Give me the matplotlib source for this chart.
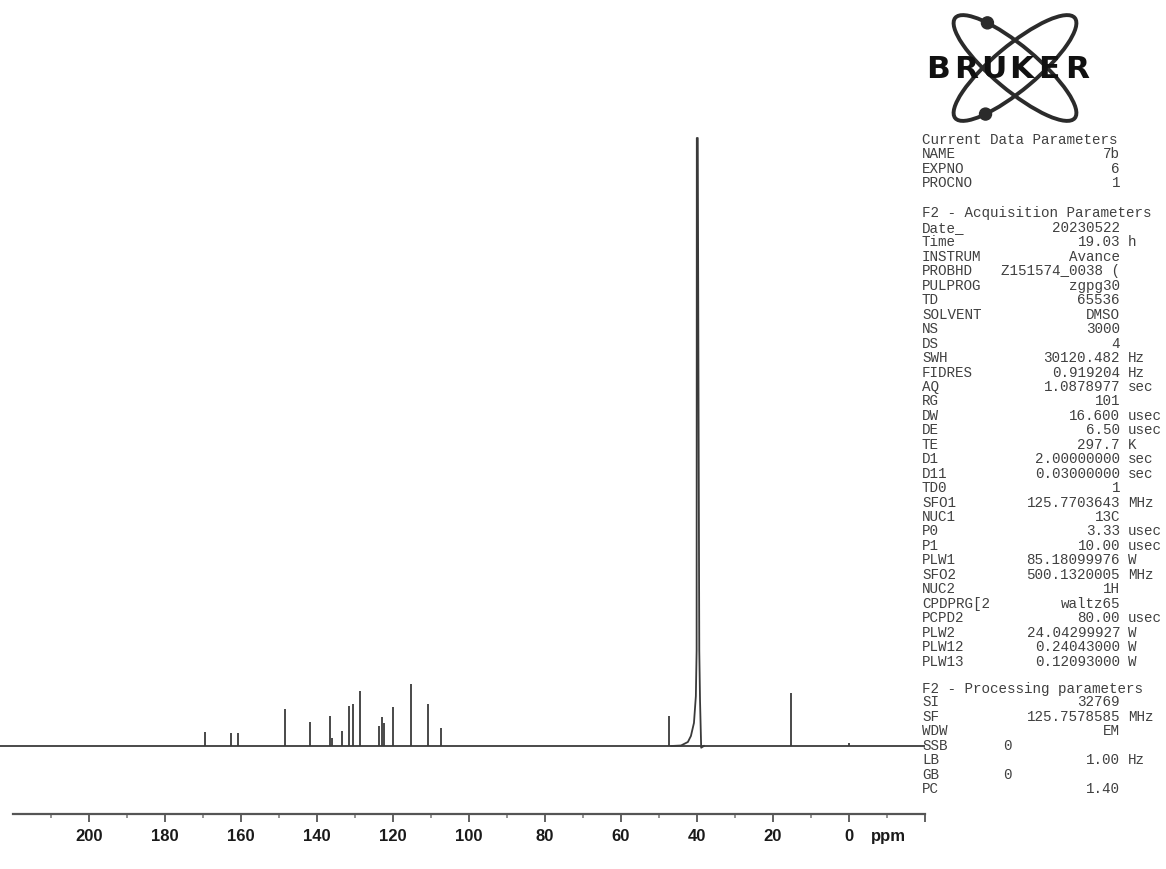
import numpy as np
import matplotlib
matplotlib.use("Agg")
import matplotlib.pyplot as plt
from matplotlib.patches import Ellipse, Circle

# ---------------- data ----------------
# 13C peaks: chemical shift (ppm) and relative intensity (DMSO = 100)
peak_ppm = [169.4, 162.6, 160.7, 148.4, 141.9, 136.5, 136.1, 133.4, 131.7,
            130.4, 128.7, 123.7, 122.9, 122.3, 120.0, 115.3, 110.9, 107.3,
            47.5, 15.3, 0.0]
peak_int = [2.3, 2.1, 2.1, 6.1, 4.0, 4.9, 1.3, 2.5, 6.6,
            6.9, 9.1, 3.3, 4.8, 3.8, 6.4, 10.2, 6.9, 2.9,
            4.9, 8.7, 0.5]

# DMSO solvent signal profile (ppm, relative intensity)
dmso_ppm = [46.8, 44.2, 42.4, 41.6, 40.8, 40.3, 40.1, 40.05, 39.8, 39.4, 39.2, 38.9, 38.2]
dmso_int = [0.0, 0.08, 0.66, 1.65, 3.8, 8.2, 15.7, 100.0, 100.0, 15.7, 7.4, -0.28, 0.0]

# axis ticks
major_ticks = [200, 180, 160, 140, 120, 100, 80, 60, 40, 20, 0, -20]
major_labels = ["200", "180", "160", "140", "120", "100", "80", "60", "40", "20", "0", ""]
minor_ticks = [210, 190, 170, 150, 130, 110, 90, 70, 50, 30, 10, -10]

# parameter block
cur_names = ["NAME", "EXPNO", "PROCNO"]
cur_values = ["7b", "6", "1"]

acq_names = ["Date_", "Time", "INSTRUM", "PROBHD", "PULPROG", "TD", "SOLVENT",
             "NS", "DS", "SWH", "FIDRES", "AQ", "RG", "DW", "DE", "TE", "D1",
             "D11", "TD0", "SFO1", "NUC1", "P0", "P1", "PLW1", "SFO2", "NUC2",
             "CPDPRG[2", "PCPD2", "PLW2", "PLW12", "PLW13"]
acq_values = ["20230522", "19.03", "Avance", "Z151574_0038 (", "zgpg30", "65536",
              "DMSO", "3000", "4", "30120.482", "0.919204", "1.0878977", "101",
              "16.600", "6.50", "297.7", "2.00000000", "0.03000000", "1",
              "125.7703643", "13C", "3.33", "10.00", "85.18099976",
              "500.1320005", "1H", "waltz65", "80.00", "24.04299927",
              "0.24043000", "0.12093000"]
acq_units = ["", "h", "", "", "", "", "", "", "", "Hz", "Hz", "sec", "", "usec",
             "usec", "K", "sec", "sec", "", "MHz", "", "usec", "usec", "W", "MHz",
             "", "", "usec", "W", "W", "W"]

proc_names = ["SI", "SF", "WDW", "SSB", "LB", "GB", "PC"]
proc_values = ["32769", "125.7578585", "EM", "0", "1.00", "0", "1.40"]
proc_units = ["", "MHz", "", "", "Hz", "", ""]

# ---------------- figure ----------------
W, H = 1166, 869
fig = plt.figure(figsize=(W / 100, H / 100), dpi=100)
fig.patch.set_facecolor("white")

def fx(x):
    return x / W

def fy(y):
    return 1 - y / H

axis_y = 814          # pixel row of the ppm axis
top_y = 125
ax = fig.add_axes([0, fy(axis_y), fx(925), (axis_y - top_y) / H])
ax.set_facecolor("none")

px_per_ppm = 3.8
ax.set_xlim(-20 + 925 / px_per_ppm, -20)
base_px = axis_y - 746            # baseline height above axis in px
px_per_unit = (746 - 138) / 100.0
ax.set_ylim(-base_px / px_per_unit, (axis_y - top_y - base_px) / px_per_unit)

line_col = "#3a3a3a"
ax.hlines(0, -20 + 925 / px_per_ppm, -20, color=line_col, lw=1.3, zorder=2)
ax.vlines(peak_ppm, 0, peak_int, color=line_col, lw=1.3, zorder=3)
ax.plot(dmso_ppm, dmso_int, color=line_col, lw=1.3, zorder=3)

for s in ["top", "right", "left"]:
    ax.spines[s].set_visible(False)
ax.spines["bottom"].set_bounds(220, -20)
ax.spines["bottom"].set_color("#555555")
ax.spines["bottom"].set_linewidth(1.6)
ax.set_yticks([])
ax.set_xticks(major_ticks)
ax.set_xticklabels(major_labels)
ax.set_xticks(minor_ticks, minor=True)
ax.tick_params(axis="x", which="major", direction="out", length=6, width=1.3,
               color="#555555", pad=5)
ax.tick_params(axis="x", which="minor", direction="out", length=3, width=1.1,
               color="#777777")
for lab in ax.get_xticklabels():
    lab.set_fontfamily("Liberation Sans")
    lab.set_fontweight("bold")
    lab.set_fontsize(12)
    lab.set_color("#1a1a1a")

fig.text(fx(888), fy(axis_y + 22.5), "ppm", ha="center", va="center",
         fontfamily="Liberation Sans", fontweight="bold", fontsize=12,
         color="#1a1a1a")

# ---------------- parameter text ----------------
tcol = "#404040"
tkw = dict(fontfamily="Liberation Mono", fontsize=10.3, color=tcol, va="center")
x_name, x_val_end, x_unit = 922, 1120, 1128
step = 14.45

fig.text(fx(x_name), fy(140.5), "Current Data Parameters", ha="left", **tkw)
for i, (n, v) in enumerate(zip(cur_names, cur_values)):
    y = 154.5 + i * 14.1
    fig.text(fx(x_name), fy(y), n, ha="left", **tkw)
    fig.text(fx(x_val_end), fy(y), v, ha="right", **tkw)

fig.text(fx(x_name), fy(213.5), "F2 - Acquisition Parameters", ha="left", **tkw)
for i, (n, v, u) in enumerate(zip(acq_names, acq_values, acq_units)):
    y = 228.0 + i * step
    fig.text(fx(x_name), fy(y), n, ha="left", **tkw)
    fig.text(fx(x_val_end), fy(y), v, ha="right", **tkw)
    if u:
        fig.text(fx(x_unit), fy(y), u, ha="left", **tkw)

fig.text(fx(x_name), fy(688.5), "F2 - Processing parameters", ha="left", **tkw)
for i, (n, v, u) in enumerate(zip(proc_names, proc_values, proc_units)):
    y = 702.5 + i * step
    fig.text(fx(x_name), fy(y), n, ha="left", **tkw)
    if n in ("SSB", "GB"):
        fig.text(fx(1003), fy(y), v, ha="left", **tkw)
    else:
        fig.text(fx(x_val_end), fy(y), v, ha="right", **tkw)
    if u:
        fig.text(fx(x_unit), fy(y), u, ha="left", **tkw)

# ---------------- Bruker logo ----------------
lax = fig.add_axes([0, 0, 1, 1])
lax.set_xlim(0, W)
lax.set_ylim(H, 0)
lax.axis("off")
cx, cy = 1015, 68
a, b = 78, 22
logo_col = "#2b2b2b"
for ang in (40, -40):
    lax.add_patch(Ellipse((cx, cy), 2 * a, 2 * b, angle=ang, fill=False,
                          ec=logo_col, lw=2.8, zorder=1))

def on_ellipse(ang, t):
    th = np.deg2rad(ang)
    u = np.array([np.cos(th), np.sin(th)])
    v = np.array([-np.sin(th), np.cos(th)])
    tt = np.deg2rad(t)
    return np.array([cx, cy]) + a * np.cos(tt) * u + b * np.sin(tt) * v

for ang, t in ((40, -130), (-40, 132)):
    p = on_ellipse(ang, t)
    lax.add_patch(Circle(p, 6, color=logo_col, zorder=2))

letters = "BRUKER"
x0, x1 = 938, 1077
for i, ch in enumerate(letters):
    xc = x0 + i * (x1 - x0) / (len(letters) - 1)
    lax.text(xc, 70, ch, ha="center", va="center", fontfamily="DejaVu Sans",
             fontweight="heavy", fontsize=22.5, color="#111111", zorder=3)

fig.savefig("out.png", dpi=100, facecolor="white")
